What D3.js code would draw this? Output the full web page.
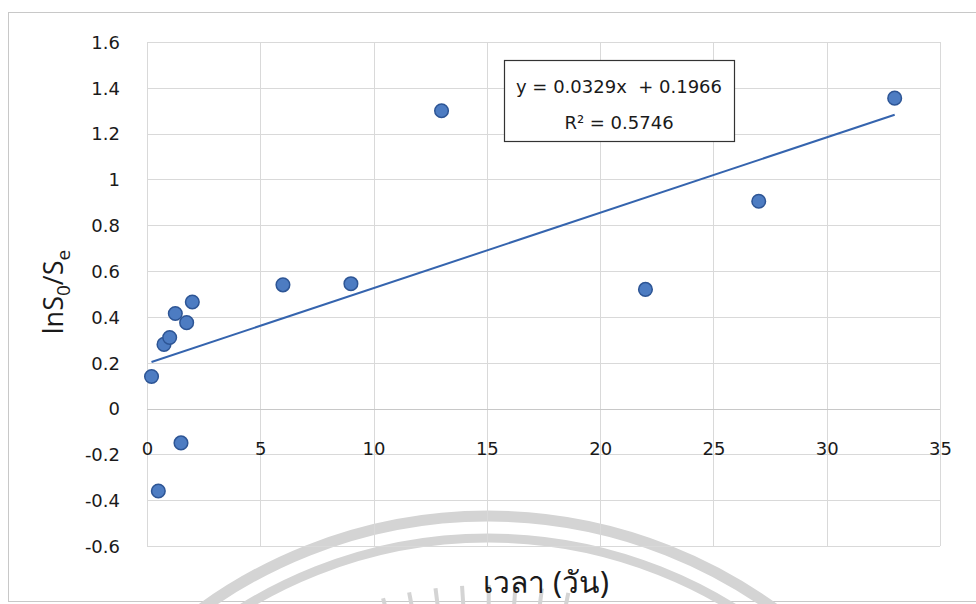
<!DOCTYPE html>
<html>
<head>
<meta charset="utf-8">
<script src="https://cdnjs.cloudflare.com/ajax/libs/d3/7.8.5/d3.min.js"></script>
<style>
  html, body { margin: 0; padding: 0; background: #fff; }
  svg { display: block; }
</style>
</head>
<body>
<svg id="chart" width="976" height="604"></svg>
<script>
// Measurement data: time (days) vs ln(S0/Se)
const days   = [0.2, 0.5, 0.75, 1.0, 1.25, 1.5, 1.75, 2.0, 6.0, 9.0, 13.0, 22.0, 27.0, 33.0];
const lnRatio = [0.14, -0.36, 0.28, 0.31, 0.415, -0.15, 0.375, 0.465, 0.54, 0.545, 1.30, 0.52, 0.905, 1.355];

// Linear trend reported for the series
const slope = 0.0329;
const intercept = 0.1966;
const rSquared = 0.5746;

const xTicks = [0, 5, 10, 15, 20, 25, 30, 35];
const yTicks = [-0.6, -0.4, -0.2, 0, 0.2, 0.4, 0.6, 0.8, 1, 1.2, 1.4, 1.6];

const svg = d3.select("#chart");
const plot = { left: 147, top: 42, right: 940, bottom: 546 };

const x = d3.scaleLinear().domain([0, 35]).range([plot.left, plot.right]);
const y = d3.scaleLinear().domain([-0.6, 1.6]).range([plot.bottom, plot.top]);

// Plain number format with an ASCII hyphen for negatives
const numFmt = d => String(+(+d).toFixed(1));

// Outer chart frame
svg.append("rect")
  .attr("x", 8.5).attr("y", 12.5).attr("width", 990).attr("height", 589)
  .attr("fill", "none").attr("stroke", "#c8c8c8").attr("stroke-width", 1);

// Seal watermark at the bottom
const wm = svg.append("g").attr("fill", "none").attr("stroke", "#d4d4d4");
const cx = 488, cy = 1004;
wm.append("circle").attr("cx", cx).attr("cy", cy).attr("r", 488).attr("stroke-width", 11);
wm.append("circle").attr("cx", cx).attr("cy", cy).attr("r", 466).attr("stroke-width", 9);
d3.range(-14.5, 12, 3.65).forEach(a => {
  const t = (a - 90) * Math.PI / 180;
  wm.append("line")
    .attr("x1", cx + 380 * Math.cos(t)).attr("y1", cy + 380 * Math.sin(t))
    .attr("x2", cx + 419 * Math.cos(t)).attr("y2", cy + 419 * Math.sin(t))
    .attr("stroke-width", 4);
});

// Gridlines
const grid = svg.append("g").attr("stroke", "#d9d9d9").attr("stroke-width", 1).attr("shape-rendering", "crispEdges");
grid.selectAll("line.h").data(yTicks).join("line")
  .attr("x1", plot.left).attr("x2", plot.right)
  .attr("y1", d => Math.round(y(d)) + 0.5).attr("y2", d => Math.round(y(d)) + 0.5);
grid.selectAll("line.v").data(xTicks).join("line")
  .attr("y1", plot.top).attr("y2", plot.bottom)
  .attr("x1", d => Math.round(x(d)) + 0.5).attr("x2", d => Math.round(x(d)) + 0.5);

// Zero line
svg.append("line")
  .attr("x1", plot.left).attr("x2", plot.right)
  .attr("y1", Math.round(y(0)) + 0.5).attr("y2", Math.round(y(0)) + 0.5)
  .attr("stroke", "#c8c8c8").attr("stroke-width", 1);

// Axes (labels only; tick marks and domain hidden)
const fontTick = "'DejaVu Sans', Verdana, sans-serif";
const yAxis = svg.append("g")
  .attr("transform", `translate(${plot.left - 27},0)`)
  .call(d3.axisLeft(y).tickValues(yTicks).tickSize(0).tickFormat(numFmt));
yAxis.select(".domain").remove();
yAxis.selectAll("text")
  .attr("x", 0).attr("dy", "0.35em")
  .style("font-family", fontTick).style("font-size", "18px").attr("fill", "#1a1a1a");

const xAxis = svg.append("g")
  .attr("transform", `translate(0,${y(0) + 34})`)
  .call(d3.axisBottom(x).tickValues(xTicks).tickSize(0).tickFormat(numFmt));
xAxis.select(".domain").remove();
xAxis.selectAll("text")
  .attr("y", 0).attr("dy", "0.71em")
  .style("font-family", fontTick).style("font-size", "18px").attr("fill", "#1a1a1a");

// Trend line across the observed range
const xMin = d3.min(days), xMax = d3.max(days);
svg.append("line")
  .attr("x1", x(xMin)).attr("y1", y(slope * xMin + intercept))
  .attr("x2", x(xMax)).attr("y2", y(slope * xMax + intercept))
  .attr("stroke", "#3564ae").attr("stroke-width", 2);

// Points
svg.append("g").selectAll("circle").data(days.map((d, i) => [d, lnRatio[i]])).join("circle")
  .attr("cx", d => x(d[0])).attr("cy", d => y(d[1])).attr("r", 6.8)
  .attr("fill", "#4d7cc2").attr("stroke", "#2d5595").attr("stroke-width", 1.5);

// Equation box
const box = svg.append("g");
box.append("rect")
  .attr("x", 504.5).attr("y", 60.5).attr("width", 230).attr("height", 81)
  .attr("fill", "#fff").attr("stroke", "#333").attr("stroke-width", 1.2);
box.append("text")
  .attr("x", 619).attr("y", 93).attr("text-anchor", "middle")
  .style("font-family", fontTick).style("font-size", "18px").attr("fill", "#1a1a1a")
  .attr("xml:space", "preserve")
  .text(`y = ${slope}x  + ${intercept}`);
box.append("text")
  .attr("x", 619).attr("y", 129).attr("text-anchor", "middle")
  .style("font-family", fontTick).style("font-size", "18px").attr("fill", "#1a1a1a")
  .text(`R² = ${rSquared}`);

// Axis titles
const yTitle = svg.append("text")
  .attr("transform", "translate(63,292) rotate(-90)")
  .attr("text-anchor", "middle")
  .style("font-family", "'Open Sans', 'Noto Sans', sans-serif").style("font-size", "27px").attr("fill", "#1a1a1a");
yTitle.append("tspan").text("lnS");
yTitle.append("tspan").attr("dy", 7).style("font-size", "19px").text("0");
yTitle.append("tspan").attr("dy", -7).text("/S");
yTitle.append("tspan").attr("dy", 7).style("font-size", "19px").text("e");

svg.append("text")
  .attr("x", 546).attr("y", 593).attr("text-anchor", "middle")
  .style("font-family", "'Noto Sans', 'DejaVu Sans', sans-serif").style("font-size", "30px").attr("fill", "#1a1a1a")
  .text("เวลา (วัน)");
</script>
</body>
</html>
